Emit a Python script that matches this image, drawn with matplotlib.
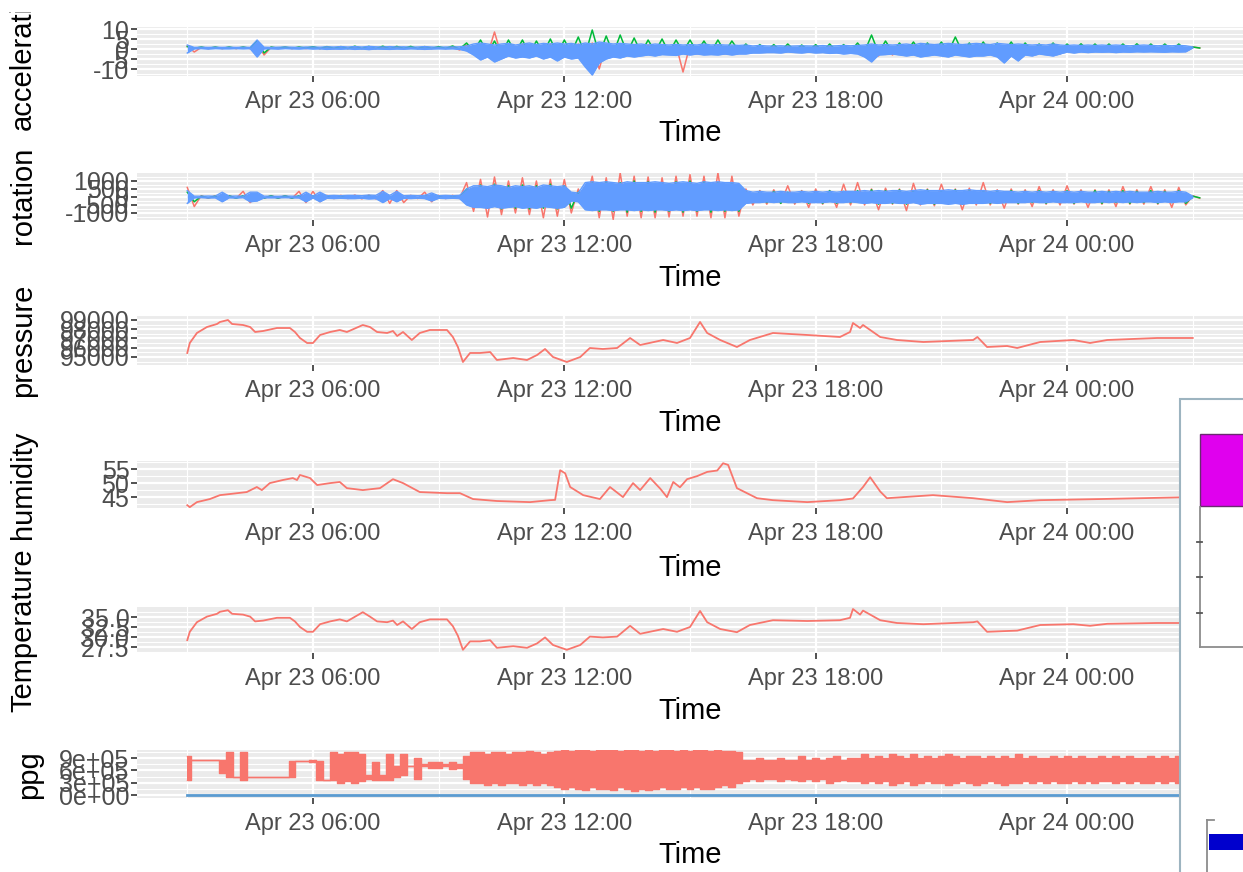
import matplotlib
matplotlib.use('Agg')
import matplotlib.dates as mdates
import matplotlib.pyplot as plt
import numpy as np
import pandas as pd
from matplotlib.lines import Line2D
from matplotlib.patches import Rectangle
from matplotlib.transforms import Bbox, TransformedBbox

plt.rcParams['font.family'] = ['Liberation Sans', 'DejaVu Sans']

# ==== time base
day0 = pd.Timestamp('2023-04-23')
t_start = pd.Timestamp('2023-04-23 03:00')

# ==== acceleration: per-bin high / low readings (blue 10 min bins, red & green 20 min bins)
acc_blue_hi = [
    2.0, 0.8, 0.9, 0.8, 0.9, 0.8,   # 03h
    0.9, 0.8, 0.9, 0.8, 4.5, 0.9,   # 04h
    0.8, 0.9, 1.0, 0.9, 0.8, 1.0,   # 05h
    1.0, 0.9, 1.1, 1.0, 1.2, 1.0,   # 06h
    1.2, 1.0, 1.3, 1.1, 1.0, 1.2,   # 07h
    1.0, 1.1, 0.9, 1.0, 1.2, 1.0,   # 08h
    0.9, 1.0, 1.0, 1.1, 1.5, 2.5,   # 09h
    3.0, 2.5, 2.0, 2.5, 2.8, 2.0,   # 10h
    2.5, 3.0, 2.2, 2.8, 2.5, 3.0,   # 11h
    2.5, 2.8, 2.2, 3.0, 2.5, 3.5,   # 12h
    3.0, 2.5, 2.8, 2.5, 2.2, 2.5,   # 13h
    2.0, 2.5, 2.2, 2.0, 2.3, 2.0,   # 14h
    2.2, 2.0, 2.5, 2.0, 2.2, 2.0,   # 15h
    2.0, 1.8, 2.0, 1.5, 1.8, 1.5,   # 16h
    1.5, 1.6, 1.4, 1.5, 1.6, 1.5,   # 17h
    1.5, 1.7, 1.5, 1.6, 1.8, 1.6,   # 18h
    1.8, 2.0, 2.5, 2.0, 2.2, 2.0,   # 19h
    2.2, 2.5, 2.0, 2.8, 2.5, 2.2,   # 20h
    2.5, 2.8, 2.5, 2.2, 2.5, 2.8,   # 21h
    2.5, 2.2, 2.8, 2.5, 2.2, 2.5,   # 22h
    2.2, 2.0, 2.2, 2.0, 2.5, 2.0,   # 23h
    1.8, 2.0, 1.8, 2.0, 1.8, 2.0,   # 00h
    1.8, 2.0, 1.8, 1.6, 1.8, 2.0,   # 01h
    1.8, 1.6, 1.8, 1.6, 1.8, 1.6,   # 02h
    1.0]
acc_blue_lo = [
    -2.0, 0.1, 0.2, 0.0, 0.2, 0.1,
    0.1, 0.2, 0.1, 0.2, -4.0, 0.1,
    0.1, 0.0, 0.2, 0.1, 0.0, 0.2,
    0.0, 0.1, -0.2, 0.0, -0.1, 0.1,
    -0.2, 0.0, -0.3, 0.0, -0.1, -0.2,
    0.0, -0.1, 0.1, 0.0, -0.2, 0.0,
    0.1, 0.0, 0.1, -0.2, -1.0, -3.0,
    -5.5, -4.0, -6.5, -5.0, -3.5, -4.5,
    -4.0, -4.5, -3.5, -5.0, -4.0, -6.0,
    -4.0, -5.0, -4.5, -9.0, -13.0, -7.0,
    -5.0, -4.0, -4.5, -3.5, -4.0, -3.5,
    -3.0, -3.5, -2.8, -3.0, -3.2, -2.5,
    -3.0, -2.5, -3.0, -2.8, -3.0, -2.5,
    -3.0, -2.5, -2.5, -2.0, -2.0, -1.8,
    -1.8, -2.0, -1.5, -1.8, -2.0, -1.6,
    -2.0, -1.8, -2.2, -2.0, -2.5, -2.2,
    -2.5, -4.0, -6.5, -3.0, -2.8, -2.5,
    -3.0, -3.5, -3.0, -4.0, -3.5, -3.0,
    -3.5, -4.0, -3.0, -3.5, -4.0, -3.5,
    -3.5, -3.0, -4.0, -7.0, -3.5, -6.0,
    -3.0, -3.5, -2.5, -3.0, -3.5, -2.5,
    -1.5, -2.0, -1.5, -1.8, -1.5, -1.6,
    -1.5, -1.8, -1.5, -1.6, -1.4, -1.5,
    -1.4, -1.5, -1.6, -1.4, -1.5, -1.4,
    0.5]
acc_green_hi = [
    1.2, 1.0, 1.0,  1.0, 1.0, 4.0,  1.0, 1.0, 1.0,  1.2, 1.2, 1.2,   # 03-06h
    1.4, 1.3, 1.4,  1.3, 1.3, 1.2,  1.2, 1.5, 3.0,  4.5, 4.0, 4.5,   # 07-10h
    4.5, 4.0, 5.0,  4.5, 6.0, 9.5,  6.5, 7.0, 5.5,  4.5, 5.0, 4.5,   # 11-14h
    4.5, 4.0, 4.5,  4.0, 2.5, 2.2,  2.2, 2.5, 2.0,  2.2, 2.5, 2.2,   # 15-18h
    3.0, 7.0, 4.0,  3.0, 3.5, 3.0,  3.5, 6.0, 3.0,  3.5, 3.0, 3.5,   # 19-22h
    3.0, 2.5, 3.0,  2.5, 2.6, 2.5,  2.5, 2.5, 2.6,  2.5, 2.5, 2.5,   # 23-02h
    1.0]
acc_green_lo = [
    0.3, 0.3, 0.3,  0.3, 0.3, -2.0,  0.4, 0.3, 0.4,  0.2, 0.3, 0.2,
    0.2, 0.2, 0.2,  0.3, 0.2, 0.3,  0.3, 0.0, -1.0,  -2.0, -2.5, -2.0,
    -2.5, -2.0, -2.5,  -2.0, -3.0, -3.0,  -2.5, -2.0, -2.0,  -1.5, -2.0, -1.5,
    -1.5, -1.5, -1.5,  -1.0, -1.0, -0.8,  -0.8, -0.8, -0.8,  -1.0, -1.0, -1.0,
    -1.5, -2.0, -1.5,  -1.5, -1.5, -1.5,  -1.5, -1.5, -1.5,  -1.5, -1.5, -1.5,
    -1.0, -1.0, -1.0,  -0.5, -0.5, -0.5,  -0.5, -0.5, -0.5,  -0.5, -0.5, -0.5,
    0.5]
acc_red_hi = [
    1.5, 0.8, 0.8,  0.8, 0.8, 3.0,  0.8, 0.8, 0.8,  0.8, 0.8, 0.8,
    0.8, 0.8, 0.8,  0.8, 0.8, 0.8,  0.8, 1.0, 2.0,  2.5, 8.5, 2.5,
    2.5, 2.0, 2.5,  2.0, 2.5, 3.0,  2.5, 2.0, 2.0,  2.0, 2.0, 2.0,
    2.0, 2.0, 2.0,  1.5, 1.5, 1.5,  1.5, 1.5, 1.5,  1.5, 1.5, 1.5,
    2.0, 2.0, 2.0,  2.0, 2.0, 2.0,  2.0, 2.0, 2.0,  2.0, 2.0, 2.0,
    2.0, 2.0, 2.0,  1.5, 1.5, 1.5,  1.5, 1.5, 1.5,  1.5, 1.5, 1.5,
    1.0]
acc_red_lo = [
    -1.5, 0.2, 0.2,  0.2, 0.2, -3.0,  0.2, 0.2, 0.2,  0.2, 0.2, 0.2,
    0.2, 0.2, 0.2,  0.2, 0.2, 0.2,  0.2, -0.5, -2.0,  -3.0, -3.5, -3.0,
    -3.0, -3.5, -3.0,  -3.5, -8.0, -10.0,  -3.5, -3.0, -3.0,  -2.5, -2.5, -11.5,
    -2.5, -2.5, -2.5,  -1.5, -1.5, -1.5,  -1.5, -1.5, -1.5,  -1.5, -1.5, -1.5,
    -3.0, -3.5, -3.0,  -2.5, -2.5, -2.5,  -2.5, -2.5, -2.5,  -2.5, -2.5, -2.5,
    -2.5, -2.5, -2.5,  -1.2, -1.2, -1.2,  -1.2, -1.2, -1.2,  -1.2, -1.2, -1.2,
    0.5]

# ==== rotation: per-bin high / low readings
rot_blue_hi = [
    400, 50, 50, 60, 50, 300,       # 03h
    50, 60, 50, 300, 300, 50,       # 04h
    50, 40, 60, 50, 50, 300,        # 05h
    60, 300, 80, 100, 80, 100,      # 06h
    100, 80, 120, 100, 350, 100,    # 07h
    350, 80, 100, 80, 100, 250,     # 08h
    80, 100, 80, 100, 500, 700,     # 09h
    700, 650, 750, 700, 600, 700,   # 10h
    650, 700, 600, 750, 700, 650,   # 11h
    700, 300, 250, 900, 950, 900,   # 12h
    950, 900, 850, 950, 900, 900,   # 13h
    900, 950, 900, 850, 900, 950,   # 14h
    900, 850, 950, 900, 950, 900,   # 15h
    900, 850, 400, 300, 350, 300,   # 16h
    300, 350, 300, 300, 350, 300,   # 17h
    350, 300, 350, 300, 350, 350,   # 18h
    350, 400, 350, 400, 350, 400,   # 19h
    400, 350, 400, 450, 400, 400,   # 20h
    400, 450, 400, 400, 450, 400,   # 21h
    400, 350, 400, 350, 350, 300,   # 22h
    350, 300, 350, 300, 350, 300,   # 23h
    350, 300, 350, 300, 300, 350,   # 00h
    300, 350, 300, 350, 300, 300,   # 01h
    300, 350, 300, 300, 350, 300,   # 02h
    50]
rot_blue_lo = [
    -400, -50, -40, -60, -50, -300,
    -50, -60, -40, -300, -250, -50,
    -50, -50, -40, -50, -60, -300,
    -60, -300, -80, -100, -80, -100,
    -100, -80, -120, -100, -350, -100,
    -300, -80, -100, -80, -100, -250,
    -80, -100, -80, -100, -500, -650,
    -650, -700, -600, -700, -650, -600,
    -700, -650, -700, -600, -650, -700,
    -650, -250, -300, -800, -850, -800,
    -800, -850, -800, -800, -850, -800,
    -850, -800, -800, -850, -800, -850,
    -800, -850, -800, -800, -850, -800,
    -850, -800, -400, -350, -350, -300,
    -350, -300, -350, -350, -300, -350,
    -350, -350, -300, -350, -350, -300,
    -350, -400, -350, -400, -400, -350,
    -400, -400, -350, -450, -400, -400,
    -400, -450, -400, -450, -400, -400,
    -400, -350, -400, -350, -350, -350,
    -350, -300, -350, -350, -300, -350,
    -350, -350, -300, -350, -350, -300,
    -350, -300, -350, -300, -350, -300,
    -300, -350, -300, -350, -300, -300,
    -50]
rot_green_hi = [
    300, 50, 50,  80, 80, 80,  80, 80, 80,  80, 80, 80,
    80, 80, 80,  80, 80, 80,  80, 80, 500,  750, 800, 700,
    750, 700, 800,  700, 300, 900,  950, 900, 1000,  950, 900, 950,
    1000, 950, 900,  900, 350, 350,  350, 300, 350,  350, 400, 350,
    400, 450, 400,  450, 400, 450,  400, 450, 400,  400, 350, 400,
    350, 400, 350,  400, 350, 400,  350, 400, 350,  400, 350, 400,
    50]
rot_green_lo = [
    -300, -50, -50,  -80, -80, -80,  -80, -80, -80,  -80, -80, -80,
    -80, -80, -80,  -80, -80, -80,  -80, -80, -500,  -700, -750, -700,
    -750, -700, -750,  -700, -300, -900,  -900, -950, -900,  -950, -900, -950,
    -900, -950, -900,  -900, -350, -350,  -400, -350, -400,  -400, -400, -350,
    -400, -450, -400,  -450, -400, -450,  -400, -450, -400,  -400, -350, -400,
    -350, -400, -350,  -400, -350, -400,  -350, -400, -350,  -400, -350, -400,
    -50]
rot_red_hi = [
    600, 80, 80,  80, 350, 80,  80, 80, 350,  350, 100, 100,
    120, 120, 400,  400, 100, 300,  100, 100, 900,  1100, 1250, 1000,
    1200, 1000, 1100,  1100, 500, 1300,  1200, 1500, 1300,  1250, 1200, 1300,
    1400, 1300, 1500,  1300, 500, 400,  450, 700, 400,  500, 400, 800,
    900, 500, 550,  500, 850, 500,  800, 500, 550,  900, 450, 500,
    450, 650, 450,  700, 450, 450,  450, 650, 450,  650, 450, 600,
    80]
rot_red_lo = [
    -600, -80, -80,  -80, -350, -80,  -80, -80, -350,  -300, -100, -100,
    -120, -120, -400,  -350, -100, -300,  -100, -100, -900,  -1250, -1100, -1000,
    -1100, -1300, -1200,  -1000, -500, -1300,  -1400, -1200, -1300,  -1300, -1250, -1200,
    -1200, -1300, -1300,  -1200, -500, -450,  -400, -450, -650,  -450, -650, -500,
    -500, -800, -450,  -850, -500, -550,  -450, -800, -500,  -500, -700, -450,
    -600, -450, -500,  -450, -650, -450,  -600, -450, -450,  -450, -650, -500,
    -80]

# ==== pressure / temperature (same sample times, hours from Apr 23 00:00)
env_hours = [
    3.00, 3.06, 3.23, 3.47, 3.71, 3.78, 3.97, 4.07, 4.33,
    4.50, 4.62, 4.81, 5.14, 5.45, 5.57, 5.69, 5.86, 6.00,
    6.17, 6.41, 6.64, 6.81, 7.19, 7.36, 7.53, 7.77, 7.91,
    8.01, 8.15, 8.36, 8.55, 8.79, 9.20, 9.34, 9.46, 9.58,
    9.75, 9.99, 10.23, 10.39, 10.78, 11.11, 11.35, 11.54, 11.73,
    12.06, 12.38, 12.61, 12.92, 13.26, 13.57, 13.81, 14.36, 14.69,
    15.00, 15.24, 15.41, 15.72, 16.12, 16.43, 16.98, 17.80, 18.58,
    18.82, 18.89, 19.06, 19.13, 19.54, 19.94, 20.57, 21.76, 21.86,
    22.09, 22.57, 22.81, 23.36, 24.15, 24.55, 24.96, 26.15, 27.00]
pressure = [
    95433, 96514, 97595, 98243, 98568, 98784, 99000, 98568, 98460,
    98243, 97703, 97811, 98135, 98135, 97703, 97054, 96514, 96514,
    97379, 97703, 97919, 97703, 98460, 98243, 97703, 97595, 97811,
    97270, 97703, 96838, 97595, 97919, 97919, 97162, 96081, 94460,
    95433, 95433, 95541, 94676, 94892, 94676, 95216, 95865, 95000,
    94460, 95000, 95973, 95865, 95973, 97054, 96297, 96838, 96514,
    97054, 98784, 97595, 96838, 96081, 96838, 97595, 97379, 97162,
    97703, 98676, 98135, 98460, 97162, 96838, 96622, 96838, 97162,
    96081, 96189, 95973, 96622, 96838, 96514, 96838, 97054, 97054]
temperature = [
    29.2, 31.3, 33.7, 35.1, 35.8, 36.3, 36.7, 35.8, 35.6,
    35.1, 33.9, 34.1, 34.8, 34.8, 33.9, 32.5, 31.3, 31.3,
    33.2, 33.9, 34.4, 33.9, 36.2, 35.1, 33.9, 33.7, 34.1,
    33.0, 33.9, 32.0, 33.7, 34.4, 34.4, 32.7, 30.3, 26.8,
    28.9, 28.9, 29.2, 27.3, 27.7, 27.3, 28.4, 29.9, 28.0,
    26.8, 28.0, 30.1, 29.9, 30.1, 32.8, 30.8, 32.0, 31.3,
    32.5, 36.5, 33.7, 32.0, 31.2, 33.0, 34.2, 34.0, 34.2,
    34.8, 37.0, 35.6, 36.6, 34.2, 33.5, 33.2, 33.7, 33.9,
    31.3, 31.5, 31.6, 33.0, 33.2, 32.8, 33.3, 33.5, 33.5]

# ==== humidity
hum_hours = [
    3.00, 3.06, 3.23, 3.54, 3.78, 4.02,
    4.42, 4.66, 4.78, 4.97, 5.28, 5.52,
    5.62, 5.69, 5.93, 6.10, 6.41, 6.64,
    6.81, 7.19, 7.60, 7.91, 8.15, 8.55,
    9.20, 9.51, 9.82, 10.39, 11.18, 11.66,
    11.78, 11.90, 12.02, 12.14, 12.45, 12.85,
    13.09, 13.40, 13.64, 13.81, 14.05, 14.29,
    14.45, 14.60, 14.76, 14.93, 15.17, 15.41,
    15.65, 15.79, 15.91, 16.12, 16.60, 16.98,
    17.80, 18.58, 18.89, 19.13, 19.30, 19.54,
    19.70, 20.80, 21.76, 22.57, 23.36, 24.79,
    25.75, 27.00]
humidity = [
    42.1, 41.4, 43.2, 44.3, 45.7, 46.1,
    46.8, 48.6, 47.5, 50.0, 51.1, 51.8,
    51.1, 52.9, 51.8, 49.3, 50.0, 50.4,
    48.2, 47.5, 48.2, 51.4, 50.0, 46.8,
    46.4, 46.4, 44.3, 43.6, 43.2, 43.9,
    44.0, 54.6, 53.5, 48.6, 45.7, 44.3,
    48.6, 45.0, 50.0, 47.5, 51.8, 48.0,
    45.0, 50.4, 48.5, 51.4, 52.5, 54.0,
    54.5, 57.1, 56.5, 48.2, 44.6, 43.9,
    43.2, 43.9, 44.5, 48.6, 52.1, 47.0,
    44.6, 45.7, 44.6, 43.2, 43.9, 44.3,
    44.6, 45.0]

# ==== ppg (thousands), 10 min bins high / low
ppg_hi_k = [
    950, 860, 860, 860, 860, 860,          # 03h
    1050, 450, 1050, 450, 450, 450,        # 04h
    450, 450, 450, 825, 825, 825,          # 05h
    850, 830, 375, 1050, 1000, 1050,       # 06h
    1050, 1000, 500, 800, 500, 1000,       # 07h
    700, 1000, 700, 900, 750, 800,         # 08h
    800, 750, 800, 750, 950, 1050,         # 09h
    1050, 1000, 1050, 1050, 1000, 1050,    # 10h
    1050, 1075, 1050, 1000, 1050, 1075,    # 11h
    1100, 1075, 1100, 1100, 1075, 1100,    # 12h
    1100, 1100, 1075, 1100, 1100, 1075,    # 13h
    1100, 1075, 1100, 1100, 1075, 1100,    # 14h
    1075, 1100, 1100, 1075, 1100, 1075,    # 15h
    1075, 1050, 850, 850, 900, 850,        # 16h
    850, 900, 850, 850, 950, 850,          # 17h
    900, 850, 900, 950, 850, 900,          # 18h
    900, 1000, 900, 950, 900, 1000,        # 19h
    950, 900, 1000, 900, 950, 900,         # 20h
    950, 1000, 950, 900, 950, 950,         # 21h
    900, 950, 900, 950, 900, 1000,         # 22h
    900, 950, 900, 900, 950, 900,          # 23h
    950, 900, 950, 900, 900, 950,          # 00h
    900, 950, 900, 950, 900, 900,          # 01h
    950, 900, 950, 900, 950, 900,          # 02h
    700]
ppg_lo_k = [
    375, 860, 860, 860, 860, 550,
    450, 450, 375, 450, 450, 450,
    450, 450, 450, 450, 825, 825,
    800, 375, 375, 375, 300, 350,
    300, 350, 400, 375, 375, 375,
    450, 500, 700, 400, 700, 650,
    650, 700, 625, 650, 400, 300,
    300, 250, 300, 250, 300, 300,
    250, 300, 250, 300, 250, 200,
    150, 200, 150, 125, 200, 150,
    150, 125, 200, 150, 100, 150,
    125, 150, 200, 150, 150, 200,
    150, 200, 150, 150, 200, 250,
    200, 300, 350, 400, 350, 400,
    400, 350, 400, 375, 350, 400,
    350, 400, 300, 350, 375, 350,
    350, 300, 350, 300, 350, 250,
    300, 350, 250, 300, 350, 300,
    300, 250, 300, 350, 300, 250,
    300, 350, 300, 250, 300, 300,
    350, 300, 350, 300, 350, 300,
    300, 350, 300, 350, 300, 350,
    350, 300, 350, 300, 350, 300,
    300, 350, 300, 350, 300, 350,
    700]
ppg_base_hours = [3.0, 27.0]
ppg_base = [0, 0]

# ==== colours
RED, GREEN, BLUE, STEEL = '#F8766D', '#00BA38', '#619CFF', '#5A9BD0'
W, H = 1243, 872


def clock(hours):
    return day0 + pd.to_timedelta(np.asarray(hours, dtype=float), unit='h')


def bins(n, step):
    return (t_start + pd.to_timedelta(np.arange(n) * step, unit='min')).values


def zigzag(ax, hi, lo, step, color, z):
    # high reading at start of each bin, low reading half a bin later
    t = bins(len(hi), step)
    t2 = t + np.timedelta64(int(step * 30), 's')
    x = np.column_stack([t, t2]).ravel()
    y = np.column_stack([hi, lo]).ravel()
    ax.plot(x, y, color=color, lw=1.1, zorder=z)


def band(ax, hi, lo, step, color, z, steps=False):
    # dense trace drawn as its per-bin min/max envelope
    t = bins(len(hi), step)
    ds = 'steps-mid' if steps else 'default'
    ax.fill_between(t, lo, hi, step='mid' if steps else None, color=color, lw=0, zorder=z)
    ax.plot(t, hi, drawstyle=ds, color=color, lw=1.0, zorder=z + 0.05)
    ax.plot(t, lo, drawstyle=ds, color=color, lw=1.0, zorder=z + 0.05)


def panel(top, bottom):
    return fig.add_axes([137 / W, 1 - bottom / H, (W - 137) / W, (bottom - top) / H])


def style(ax, yticks, ylabels, ylim):
    ax.set_facecolor('#EBEBEB')
    for s in ax.spines.values():
        s.set_visible(False)
    ax.set_xlim(*clock([1.8, 28.2]))
    ax.set_ylim(*ylim)
    ax.xaxis.set_major_locator(mdates.HourLocator(byhour=[0, 6, 12, 18]))
    ax.xaxis.set_minor_locator(mdates.HourLocator(byhour=[3, 9, 15, 21]))
    ax.xaxis.set_major_formatter(mdates.DateFormatter('%b %d %H:%M'))
    ax.set_yticks(yticks)
    ax.set_yticklabels(ylabels)
    step = yticks[1] - yticks[0]
    minor = [v + step / 2 for v in [yticks[0] - step] + list(yticks)]
    ax.set_yticks([v for v in minor if ylim[0] < v < ylim[1]], minor=True)
    ax.grid(which='major', color='white', lw=1.6)
    ax.grid(which='minor', color='white', lw=0.8)
    ax.set_axisbelow(True)
    ax.tick_params(which='major', length=4, width=1.2, color='#333333', labelcolor='#4D4D4D')
    ax.tick_params(axis='x', labelsize=17, pad=7)
    ax.tick_params(axis='y', labelsize=18, pad=1.5)
    ax.tick_params(which='minor', length=0)


fig = plt.figure(figsize=(W / 100, H / 100), dpi=100)

# ==== acceleration
ax = panel(27, 76)
zigzag(ax, acc_red_hi, acc_red_lo, 20, RED, 2.0)
zigzag(ax, acc_green_hi, acc_green_lo, 20, GREEN, 2.1)
band(ax, acc_blue_hi, acc_blue_lo, 10, BLUE, 2.2)
style(ax, [-10, -5, 0, 5, 10], ['-10', '-5', '0', '5', '10'], (-13.5, 11))

# ==== rotation
ax = panel(173, 220)
zigzag(ax, rot_red_hi, rot_red_lo, 20, RED, 2.0)
zigzag(ax, rot_green_hi, rot_green_lo, 20, GREEN, 2.1)
band(ax, rot_blue_hi, rot_blue_lo, 10, BLUE, 2.2)
style(ax, [-1000, -500, 0, 500, 1000], ['-1000', '-500', '0', '500', '1000'], (-1440, 1500))

# ==== pressure
ax = panel(315, 365)
ax.plot(clock(env_hours), pressure, color=RED, lw=1.3)
style(ax, [95000, 96000, 97000, 98000, 99000], ['95000', '96000', '97000', '98000', '99000'],
      (94135, 99540))

# ==== humidity
ax = panel(461, 508)
ax.plot(clock(hum_hours), humidity, color=RED, lw=1.3)
style(ax, [45, 50, 55], ['45', '50', '55'], (41.1, 57.9))

# ==== temperature
ax = panel(607, 653)
ax.plot(clock(env_hours), temperature, color=RED, lw=1.3)
style(ax, [27.5, 30.0, 32.5, 35.0], ['27.5', '30.0', '32.5', '35.0'], (26.0, 37.5))

# ==== ppg
ax = panel(750, 798)
band(ax, np.array(ppg_hi_k) * 1000, np.array(ppg_lo_k) * 1000, 10, RED, 2.0, steps=True)
ax.plot(clock(ppg_base_hours), ppg_base, color=STEEL, lw=2.0, zorder=2.5)
style(ax, [0, 300000, 600000, 900000], ['0e+00', '3e+05', '6e+05', '9e+05'], (-73000, 1100000))

# ==== axis titles
for y in [133, 278, 423, 568, 711, 855]:
    fig.text(690 / W, 1 - y / H, 'Time', ha='center', va='center', fontsize=21)
for label, yc, xc in [('acceleration', 51, 23), ('rotation', 195, 23), ('pressure', 340, 23),
                      ('humidity', 485, 23), ('Temperature', 630, 23), ('ppg', 775, 29)]:
    t = fig.text(xc / W, 1 - yc / H, label, rotation=90, ha='center', va='center', fontsize=21)
    if label == 'acceleration':
        # the title runs past the top of its plot cell and is cut there
        t.set_clip_box(TransformedBbox(Bbox([[0, 0], [1, 1 - 12 / H]]), fig.transFigure))
        t.set_clip_on(True)


# ==== window overlapping the lower right corner
def px(x, y):
    return x / W, 1 - y / H


tf = fig.transFigure
fig.add_artist(Rectangle(px(1180, 880), 80 / W, 481 / H, transform=tf,
                         facecolor='white', edgecolor='#9DB4C0', lw=1.5))
fig.add_artist(Rectangle(px(1200, 506), 60 / W, 72 / H, transform=tf,
                         facecolor='#E000EE', edgecolor='#6A2A70', lw=1.0))
fig.add_artist(Line2D([1200 / W, 1200 / W], [1 - 507 / H, 1 - 647 / H], transform=tf, color='#8C8C8C', lw=1.3))
fig.add_artist(Line2D([1200 / W, 1250 / W], [1 - 647 / H, 1 - 647 / H], transform=tf, color='#8C8C8C', lw=1.3))
for yt in [542, 577, 613]:
    fig.add_artist(Line2D([1197 / W, 1202 / W], [1 - yt / H, 1 - yt / H], transform=tf, color='#555555', lw=1.3))
fig.add_artist(Line2D([1207 / W, 1207 / W], [1 - 820 / H, 1 - 880 / H], transform=tf, color='#8C8C8C', lw=1.3))
fig.add_artist(Line2D([1207 / W, 1214 / W], [1 - 820 / H, 1 - 820 / H], transform=tf, color='#8C8C8C', lw=1.3))
fig.add_artist(Rectangle(px(1209, 850), 50 / W, 16 / H, transform=tf,
                         facecolor='#0000CD', edgecolor='none'))

fig.savefig('out.png', dpi=100)
